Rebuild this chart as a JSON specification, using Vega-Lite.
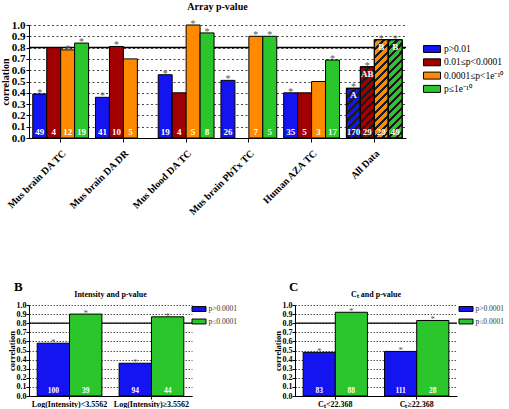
{
  "$schema": "https://vega.github.io/schema/vega-lite/v6.json",
  "padding": {"top": 2, "left": 0, "right": 0, "bottom": 0},
  "spacing": 64,
  "resolve": {"scale": {"color": "independent", "xOffset": "independent"}, "legend": {"color": "independent"}},
  "config": {
    "view": {"stroke": null},
    "font": "Liberation Serif",
    "axis": {"labelFont": "Liberation Serif", "titleFont": "Liberation Serif", "labelColor": "black", "titleColor": "black", "domainColor": "black", "tickColor": "black", "labelFontWeight": "bold", "titleFontWeight": "bold", "labelOverlap": false},
    "legend": {"labelFont": "Liberation Serif"},
    "title": {"font": "Liberation Serif", "fontWeight": "bold", "color": "black"}
  },
  "datasets": {
    "arr": [
      {"g": "Mus brain DA TC", "s": "p>0.01", "v": 0.39, "n": "49", "star": "*", "lab": ""},
      {"g": "Mus brain DA TC", "s": "0.01≤p<0.0001", "v": 0.80, "n": "4", "star": "", "lab": ""},
      {"g": "Mus brain DA TC", "s": "0.0001≤p<1e⁻¹⁰", "v": 0.78, "n": "12", "star": "*", "lab": ""},
      {"g": "Mus brain DA TC", "s": "p≤1e⁻¹⁰", "v": 0.84, "n": "19", "star": "*", "lab": ""},
      {"g": "Mus brain DA DR", "s": "p>0.01", "v": 0.36, "n": "41", "star": "*", "lab": ""},
      {"g": "Mus brain DA DR", "s": "0.01≤p<0.0001", "v": 0.81, "n": "10", "star": "*", "lab": ""},
      {"g": "Mus brain DA DR", "s": "0.0001≤p<1e⁻¹⁰", "v": 0.70, "n": "5", "star": "", "lab": ""},
      {"g": "Mus brain DA DR", "s": "p≤1e⁻¹⁰", "v": null, "n": "ND", "star": "", "lab": ""},
      {"g": "Mus blood DA TC", "s": "p>0.01", "v": 0.56, "n": "19", "star": "*", "lab": ""},
      {"g": "Mus blood DA TC", "s": "0.01≤p<0.0001", "v": 0.40, "n": "4", "star": "", "lab": ""},
      {"g": "Mus blood DA TC", "s": "0.0001≤p<1e⁻¹⁰", "v": 1.00, "n": "5", "star": "*", "lab": ""},
      {"g": "Mus blood DA TC", "s": "p≤1e⁻¹⁰", "v": 0.93, "n": "8", "star": "*", "lab": ""},
      {"g": "Mus brain PbTx TC", "s": "p>0.01", "v": 0.51, "n": "26", "star": "*", "lab": ""},
      {"g": "Mus brain PbTx TC", "s": "0.01≤p<0.0001", "v": null, "n": "ND", "star": "", "lab": ""},
      {"g": "Mus brain PbTx TC", "s": "0.0001≤p<1e⁻¹⁰", "v": 0.90, "n": "7", "star": "*", "lab": ""},
      {"g": "Mus brain PbTx TC", "s": "p≤1e⁻¹⁰", "v": 0.90, "n": "5", "star": "*", "lab": ""},
      {"g": "Human AZA TC", "s": "p>0.01", "v": 0.40, "n": "35", "star": "*", "lab": ""},
      {"g": "Human AZA TC", "s": "0.01≤p<0.0001", "v": 0.40, "n": "5", "star": "", "lab": ""},
      {"g": "Human AZA TC", "s": "0.0001≤p<1e⁻¹⁰", "v": 0.50, "n": "3", "star": "", "lab": ""},
      {"g": "Human AZA TC", "s": "p≤1e⁻¹⁰", "v": 0.69, "n": "17", "star": "*", "lab": ""},
      {"g": "All Data", "s": "p>0.01", "v": 0.44, "n": "170", "star": "*", "lab": "A"},
      {"g": "All Data", "s": "0.01≤p<0.0001", "v": 0.63, "n": "29", "star": "*", "lab": "AB"},
      {"g": "All Data", "s": "0.0001≤p<1e⁻¹⁰", "v": 0.87, "n": "29", "star": "*", "lab": "B"},
      {"g": "All Data", "s": "p≤1e⁻¹⁰", "v": 0.87, "n": "49", "star": "*", "lab": "B"}
    ],
    "intensity": [
      {"g": "Log(Intensity)<3.5562", "s": "p>0.0001", "v": 0.58, "n": "100"},
      {"g": "Log(Intensity)<3.5562", "s": "p≤0.0001", "v": 0.90, "n": "39"},
      {"g": "Log(Intensity)≥3.5562", "s": "p>0.0001", "v": 0.36, "n": "94"},
      {"g": "Log(Intensity)≥3.5562", "s": "p≤0.0001", "v": 0.87, "n": "44"}
    ],
    "ct": [
      {"g": "Cₜ<22.368", "s": "p>0.0001", "v": 0.48, "n": "83"},
      {"g": "Cₜ<22.368", "s": "p≤0.0001", "v": 0.92, "n": "88"},
      {"g": "Cₜ≥22.368", "s": "p>0.0001", "v": 0.49, "n": "111"},
      {"g": "Cₜ≥22.368", "s": "p≤0.0001", "v": 0.83, "n": "28"}
    ]
  },
  "vconcat": [
    {
      "width": 377,
      "height": 113,
      "title": {"text": "Array p-value", "fontSize": 10, "frame": "group", "offset": 7},
      "layer": [
        {
          "data": {"values": [{}]},
          "mark": {"type": "rule", "strokeWidth": 1.5, "color": "black"},
          "encoding": {"y": {"datum": 0.8, "type": "quantitative", "scale": {"domain": [0, 1], "nice": false},
            "axis": {"title": "correlation", "values": [0, 0.1, 0.2, 0.3, 0.4, 0.5, 0.6, 0.7, 0.8, 0.9, 1.0], "format": ".1f", "labelFontSize": 11, "labelPadding": 1, "tickSize": 3, "titleFontSize": 10, "titlePadding": 1, "grid": true, "gridColor": "#444", "gridDash": [2, 2.5], "gridWidth": 1}}}
        },
        {
          "data": {"name": "arr"},
          "encoding": {
            "x": {"field": "g", "type": "nominal", "sort": null,
              "scale": {"domain": ["Mus brain DA TC", "Mus brain DA DR", "Mus blood DA TC", "Mus brain PbTx TC", "Human AZA TC", "All Data"], "paddingInner": 0.11, "paddingOuter": 0.06},
              "axis": {"title": null, "labelAngle": -45, "labelFontSize": 10, "labelPadding": 6, "tickSize": 4, "labelLimit": 200}},
            "xOffset": {"field": "s", "type": "nominal", "sort": null,
              "scale": {"domain": ["p>0.01", "0.01≤p<0.0001", "0.0001≤p<1e⁻¹⁰", "p≤1e⁻¹⁰"], "paddingInner": 0, "paddingOuter": 0}},
            "y": {"field": "v", "type": "quantitative",
              "scale": {"domain": [0, 1], "nice": false},
              "axis": {"title": "correlation", "values": [0, 0.1, 0.2, 0.3, 0.4, 0.5, 0.6, 0.7, 0.8, 0.9, 1.0], "format": ".1f", "labelFontSize": 11, "labelPadding": 1, "tickSize": 3, "titleFontSize": 10, "titlePadding": 1, "grid": true, "gridColor": "#444", "gridDash": [2, 2.5], "gridWidth": 1}}
          },
          "layer": [
            {
              "mark": {"type": "bar", "stroke": "black", "strokeWidth": 1},
              "encoding": {
                "color": {"field": "s", "type": "nominal",
                  "scale": {"domain": ["p>0.01", "0.01≤p<0.0001", "0.0001≤p<1e⁻¹⁰", "p≤1e⁻¹⁰"], "range": ["#1414f0", "#a00000", "#ff8a00", "#2bc62b"]},
                  "legend": {"title": null, "orient": "none", "legendX": 398, "legendY": 19, "symbolType": "M-2,-0.82H2V0.82H-2Z", "symbolSize": 72, "symbolStrokeColor": "black", "symbolStrokeWidth": 1, "symbolOpacity": 1, "labelFontSize": 9.5, "labelColor": "black", "labelOffset": 7, "rowPadding": 1.3, "padding": 0, "labelLimit": 200}}
              }
            },
            {
              "transform": [{"filter": "datum.g == 'All Data' && datum.s == 'p>0.01'"}],
              "mark": {"type": "bar", "stroke": "black", "strokeWidth": 1,
                "fill": {"gradient": "linear", "x1": 0, "y1": 0, "x2": 0.3345, "y2": 1.1875, "stops": [
                  {"offset": 0, "color": "#1a1a1a"}, {"offset": 0.05, "color": "#1a1a1a"}, {"offset": 0.05, "color": "rgba(0,0,0,0)"}, {"offset": 0.125, "color": "rgba(0,0,0,0)"},
                  {"offset": 0.125, "color": "#1a1a1a"}, {"offset": 0.175, "color": "#1a1a1a"}, {"offset": 0.175, "color": "rgba(0,0,0,0)"}, {"offset": 0.25, "color": "rgba(0,0,0,0)"},
                  {"offset": 0.25, "color": "#1a1a1a"}, {"offset": 0.3, "color": "#1a1a1a"}, {"offset": 0.3, "color": "rgba(0,0,0,0)"}, {"offset": 0.375, "color": "rgba(0,0,0,0)"},
                  {"offset": 0.375, "color": "#1a1a1a"}, {"offset": 0.425, "color": "#1a1a1a"}, {"offset": 0.425, "color": "rgba(0,0,0,0)"}, {"offset": 0.5, "color": "rgba(0,0,0,0)"},
                  {"offset": 0.5, "color": "#1a1a1a"}, {"offset": 0.55, "color": "#1a1a1a"}, {"offset": 0.55, "color": "rgba(0,0,0,0)"}, {"offset": 0.625, "color": "rgba(0,0,0,0)"},
                  {"offset": 0.625, "color": "#1a1a1a"}, {"offset": 0.675, "color": "#1a1a1a"}, {"offset": 0.675, "color": "rgba(0,0,0,0)"}, {"offset": 0.75, "color": "rgba(0,0,0,0)"},
                  {"offset": 0.75, "color": "#1a1a1a"}, {"offset": 0.8, "color": "#1a1a1a"}, {"offset": 0.8, "color": "rgba(0,0,0,0)"}, {"offset": 0.875, "color": "rgba(0,0,0,0)"},
                  {"offset": 0.875, "color": "#1a1a1a"}, {"offset": 0.925, "color": "#1a1a1a"}, {"offset": 0.925, "color": "rgba(0,0,0,0)"}, {"offset": 1, "color": "rgba(0,0,0,0)"}
                ]}}
            },
            {
              "transform": [{"filter": "datum.g == 'All Data' && datum.s == '0.01≤p<0.0001'"}],
              "mark": {"type": "bar", "stroke": "black", "strokeWidth": 1,
                "fill": {"gradient": "linear", "x1": 0, "y1": 0, "x2": 0.2266, "y2": 1.152, "stops": [
                  {"offset": 0, "color": "#1a1a1a"}, {"offset": 0.0364, "color": "#1a1a1a"}, {"offset": 0.0364, "color": "rgba(0,0,0,0)"}, {"offset": 0.0909, "color": "rgba(0,0,0,0)"},
                  {"offset": 0.0909, "color": "#1a1a1a"}, {"offset": 0.1273, "color": "#1a1a1a"}, {"offset": 0.1273, "color": "rgba(0,0,0,0)"}, {"offset": 0.1818, "color": "rgba(0,0,0,0)"},
                  {"offset": 0.1818, "color": "#1a1a1a"}, {"offset": 0.2182, "color": "#1a1a1a"}, {"offset": 0.2182, "color": "rgba(0,0,0,0)"}, {"offset": 0.2727, "color": "rgba(0,0,0,0)"},
                  {"offset": 0.2727, "color": "#1a1a1a"}, {"offset": 0.3091, "color": "#1a1a1a"}, {"offset": 0.3091, "color": "rgba(0,0,0,0)"}, {"offset": 0.3636, "color": "rgba(0,0,0,0)"},
                  {"offset": 0.3636, "color": "#1a1a1a"}, {"offset": 0.4, "color": "#1a1a1a"}, {"offset": 0.4, "color": "rgba(0,0,0,0)"}, {"offset": 0.4545, "color": "rgba(0,0,0,0)"},
                  {"offset": 0.4545, "color": "#1a1a1a"}, {"offset": 0.4909, "color": "#1a1a1a"}, {"offset": 0.4909, "color": "rgba(0,0,0,0)"}, {"offset": 0.5455, "color": "rgba(0,0,0,0)"},
                  {"offset": 0.5455, "color": "#1a1a1a"}, {"offset": 0.5818, "color": "#1a1a1a"}, {"offset": 0.5818, "color": "rgba(0,0,0,0)"}, {"offset": 0.6364, "color": "rgba(0,0,0,0)"},
                  {"offset": 0.6364, "color": "#1a1a1a"}, {"offset": 0.6727, "color": "#1a1a1a"}, {"offset": 0.6727, "color": "rgba(0,0,0,0)"}, {"offset": 0.7273, "color": "rgba(0,0,0,0)"},
                  {"offset": 0.7273, "color": "#1a1a1a"}, {"offset": 0.7636, "color": "#1a1a1a"}, {"offset": 0.7636, "color": "rgba(0,0,0,0)"}, {"offset": 0.8182, "color": "rgba(0,0,0,0)"},
                  {"offset": 0.8182, "color": "#1a1a1a"}, {"offset": 0.8545, "color": "#1a1a1a"}, {"offset": 0.8545, "color": "rgba(0,0,0,0)"}, {"offset": 0.9091, "color": "rgba(0,0,0,0)"},
                  {"offset": 0.9091, "color": "#1a1a1a"}, {"offset": 0.9455, "color": "#1a1a1a"}, {"offset": 0.9455, "color": "rgba(0,0,0,0)"}, {"offset": 1, "color": "rgba(0,0,0,0)"}
                ]}}
            },
            {
              "transform": [{"filter": "datum.g == 'All Data' && (datum.s == '0.0001≤p<1e⁻¹⁰' || datum.s == 'p≤1e⁻¹⁰')"}],
              "mark": {"type": "bar", "stroke": "black", "strokeWidth": 1,
                "fill": {"gradient": "linear", "x1": 0, "y1": 0, "x2": 0.1595, "y2": 1.1197, "stops": [
                  {"offset": 0, "color": "#1a1a1a"}, {"offset": 0.0286, "color": "#1a1a1a"}, {"offset": 0.0286, "color": "rgba(0,0,0,0)"}, {"offset": 0.0714, "color": "rgba(0,0,0,0)"},
                  {"offset": 0.0714, "color": "#1a1a1a"}, {"offset": 0.1, "color": "#1a1a1a"}, {"offset": 0.1, "color": "rgba(0,0,0,0)"}, {"offset": 0.1429, "color": "rgba(0,0,0,0)"},
                  {"offset": 0.1429, "color": "#1a1a1a"}, {"offset": 0.1714, "color": "#1a1a1a"}, {"offset": 0.1714, "color": "rgba(0,0,0,0)"}, {"offset": 0.2143, "color": "rgba(0,0,0,0)"},
                  {"offset": 0.2143, "color": "#1a1a1a"}, {"offset": 0.2429, "color": "#1a1a1a"}, {"offset": 0.2429, "color": "rgba(0,0,0,0)"}, {"offset": 0.2857, "color": "rgba(0,0,0,0)"},
                  {"offset": 0.2857, "color": "#1a1a1a"}, {"offset": 0.3143, "color": "#1a1a1a"}, {"offset": 0.3143, "color": "rgba(0,0,0,0)"}, {"offset": 0.3571, "color": "rgba(0,0,0,0)"},
                  {"offset": 0.3571, "color": "#1a1a1a"}, {"offset": 0.3857, "color": "#1a1a1a"}, {"offset": 0.3857, "color": "rgba(0,0,0,0)"}, {"offset": 0.4286, "color": "rgba(0,0,0,0)"},
                  {"offset": 0.4286, "color": "#1a1a1a"}, {"offset": 0.4571, "color": "#1a1a1a"}, {"offset": 0.4571, "color": "rgba(0,0,0,0)"}, {"offset": 0.5, "color": "rgba(0,0,0,0)"},
                  {"offset": 0.5, "color": "#1a1a1a"}, {"offset": 0.5286, "color": "#1a1a1a"}, {"offset": 0.5286, "color": "rgba(0,0,0,0)"}, {"offset": 0.5714, "color": "rgba(0,0,0,0)"},
                  {"offset": 0.5714, "color": "#1a1a1a"}, {"offset": 0.6, "color": "#1a1a1a"}, {"offset": 0.6, "color": "rgba(0,0,0,0)"}, {"offset": 0.6429, "color": "rgba(0,0,0,0)"},
                  {"offset": 0.6429, "color": "#1a1a1a"}, {"offset": 0.6714, "color": "#1a1a1a"}, {"offset": 0.6714, "color": "rgba(0,0,0,0)"}, {"offset": 0.7143, "color": "rgba(0,0,0,0)"},
                  {"offset": 0.7143, "color": "#1a1a1a"}, {"offset": 0.7429, "color": "#1a1a1a"}, {"offset": 0.7429, "color": "rgba(0,0,0,0)"}, {"offset": 0.7857, "color": "rgba(0,0,0,0)"},
                  {"offset": 0.7857, "color": "#1a1a1a"}, {"offset": 0.8143, "color": "#1a1a1a"}, {"offset": 0.8143, "color": "rgba(0,0,0,0)"}, {"offset": 0.8571, "color": "rgba(0,0,0,0)"},
                  {"offset": 0.8571, "color": "#1a1a1a"}, {"offset": 0.8857, "color": "#1a1a1a"}, {"offset": 0.8857, "color": "rgba(0,0,0,0)"}, {"offset": 0.9286, "color": "rgba(0,0,0,0)"},
                  {"offset": 0.9286, "color": "#1a1a1a"}, {"offset": 0.9571, "color": "#1a1a1a"}, {"offset": 0.9571, "color": "rgba(0,0,0,0)"}, {"offset": 1, "color": "rgba(0,0,0,0)"}
                ]}}
            },
            {
              "mark": {"type": "text", "baseline": "bottom", "dy": -1, "fontSize": 9, "fontWeight": "bold"},
              "encoding": {
                "y": {"datum": 0},
                "text": {"field": "n"},
                "color": {"condition": {"test": "datum.v == null", "value": "black"}, "value": "white"}
              }
            },
            {
              "transform": [{"filter": "datum.star == '*'"}],
              "mark": {"type": "text", "baseline": "alphabetic", "dy": 2, "fontSize": 10, "color": "#555"},
              "encoding": {"text": {"field": "star"}}
            },
            {
              "transform": [{"filter": "datum.lab != ''"}],
              "mark": {"type": "text", "baseline": "top", "dy": 3, "fontSize": 9, "fontWeight": "bold", "color": "white"},
              "encoding": {"text": {"field": "lab"}}
            }
          ]
        }
      ]
    },
    {
      "spacing": 35,
      "resolve": {"scale": {"color": "independent", "xOffset": "independent"}, "legend": {"color": "independent"}},
      "hconcat": [
        {
          "title": {"text": "B", "anchor": "start", "frame": "bounds", "fontSize": 13, "dx": 7, "offset": -3.5},
          "vconcat": [
            {
              "width": 163,
              "height": 91,
              "title": {"text": "Intensity and p-value", "fontSize": 8, "frame": "group", "offset": 2.5},
              "layer": [
                {
                  "data": {"values": [{}]},
                  "mark": {"type": "rule", "strokeWidth": 1.2, "color": "black"},
                  "encoding": {"y": {"datum": 0.8, "type": "quantitative", "scale": {"domain": [0, 1], "nice": false},
                    "axis": {"title": "correlation", "values": [0, 0.1, 0.2, 0.3, 0.4, 0.5, 0.6, 0.7, 0.8, 0.9, 1.0], "format": ".1f", "labelFontSize": 8, "labelPadding": 0, "tickSize": 3, "titleFontSize": 8.5, "titlePadding": 0, "grid": true, "gridColor": "#555", "gridDash": [1.5, 1.5], "gridWidth": 1}}}
                },
                {
                  "data": {"name": "intensity"},
                  "encoding": {
                    "x": {"field": "g", "type": "nominal", "sort": null,
                      "scale": {"domain": ["Log(Intensity)<3.5562", "Log(Intensity)≥3.5562"], "paddingInner": 0.21, "paddingOuter": 0.1},
                      "axis": {"title": null, "labelAngle": 0, "labelFontSize": 8, "labelPadding": 1, "tickSize": 3, "labelLimit": 200}},
                    "xOffset": {"field": "s", "type": "nominal", "sort": null, "scale": {"domain": ["p>0.0001", "p≤0.0001"], "paddingInner": 0, "paddingOuter": 0}},
                    "y": {"field": "v", "type": "quantitative",
                      "scale": {"domain": [0, 1], "nice": false},
                      "axis": {"title": "correlation", "values": [0, 0.1, 0.2, 0.3, 0.4, 0.5, 0.6, 0.7, 0.8, 0.9, 1.0], "format": ".1f", "labelFontSize": 8, "labelPadding": 0, "tickSize": 3, "titleFontSize": 8.5, "titlePadding": 0, "grid": true, "gridColor": "#555", "gridDash": [1.5, 1.5], "gridWidth": 1}}
                  },
                  "layer": [
                    {
                      "mark": {"type": "bar", "stroke": "black", "strokeWidth": 1},
                      "encoding": {
                        "color": {"field": "s", "type": "nominal",
                          "scale": {"domain": ["p>0.0001", "p≤0.0001"], "range": ["#1414f0", "#2bc62b"]},
                          "legend": {"title": null, "orient": "none", "legendX": 166, "legendY": 0, "symbolType": "M-2,-0.7H2V0.7H-2Z", "symbolSize": 49, "symbolStrokeColor": "black", "symbolStrokeWidth": 1, "symbolOpacity": 1, "labelFontSize": 7.5, "labelColor": "#333", "labelOffset": 5.5, "rowPadding": 2.5, "padding": 0}}
                      }
                    },
                    {
                      "mark": {"type": "text", "baseline": "bottom", "dy": -1, "fontSize": 7.5, "fontWeight": "bold", "color": "white"},
                      "encoding": {"y": {"datum": 0}, "text": {"field": "n"}}
                    },
                    {
                      "mark": {"type": "text", "baseline": "alphabetic", "dy": 2, "fontSize": 9, "color": "#555"},
                      "encoding": {"text": {"value": "*"}}
                    }
                  ]
                }
              ]
            }
          ]
        },
        {
          "title": {"text": "C", "anchor": "start", "frame": "bounds", "fontSize": 13, "dx": 16, "offset": -3.5},
          "vconcat": [
            {
              "width": 162,
              "height": 91,
              "title": {"text": "Cₜ and p-value", "fontSize": 8, "frame": "group", "offset": 2.5},
              "layer": [
                {
                  "data": {"values": [{}]},
                  "mark": {"type": "rule", "strokeWidth": 1.2, "color": "black"},
                  "encoding": {"y": {"datum": 0.8, "type": "quantitative", "scale": {"domain": [0, 1], "nice": false},
                    "axis": {"title": "correlation", "values": [0, 0.1, 0.2, 0.3, 0.4, 0.5, 0.6, 0.7, 0.8, 0.9, 1.0], "format": ".1f", "labelFontSize": 8, "labelPadding": 0, "tickSize": 3, "titleFontSize": 8.5, "titlePadding": 0, "grid": true, "gridColor": "#555", "gridDash": [1.5, 1.5], "gridWidth": 1}}}
                },
                {
                  "data": {"name": "ct"},
                  "encoding": {
                    "x": {"field": "g", "type": "nominal", "sort": null,
                      "scale": {"domain": ["Cₜ<22.368", "Cₜ≥22.368"], "paddingInner": 0.21, "paddingOuter": 0.1},
                      "axis": {"title": null, "labelAngle": 0, "labelFontSize": 8, "labelPadding": 1, "tickSize": 3, "labelLimit": 200}},
                    "xOffset": {"field": "s", "type": "nominal", "sort": null, "scale": {"domain": ["p>0.0001", "p≤0.0001"], "paddingInner": 0, "paddingOuter": 0}},
                    "y": {"field": "v", "type": "quantitative",
                      "scale": {"domain": [0, 1], "nice": false},
                      "axis": {"title": "correlation", "values": [0, 0.1, 0.2, 0.3, 0.4, 0.5, 0.6, 0.7, 0.8, 0.9, 1.0], "format": ".1f", "labelFontSize": 8, "labelPadding": 0, "tickSize": 3, "titleFontSize": 8.5, "titlePadding": 0, "grid": true, "gridColor": "#555", "gridDash": [1.5, 1.5], "gridWidth": 1}}
                  },
                  "layer": [
                    {
                      "mark": {"type": "bar", "stroke": "black", "strokeWidth": 1},
                      "encoding": {
                        "color": {"field": "s", "type": "nominal",
                          "scale": {"domain": ["p>0.0001", "p≤0.0001"], "range": ["#1414f0", "#2bc62b"]},
                          "legend": {"title": null, "orient": "none", "legendX": 167, "legendY": 0, "symbolType": "M-2,-0.7H2V0.7H-2Z", "symbolSize": 49, "symbolStrokeColor": "black", "symbolStrokeWidth": 1, "symbolOpacity": 1, "labelFontSize": 7.5, "labelColor": "#333", "labelOffset": 5.5, "rowPadding": 2.5, "padding": 0}}
                      }
                    },
                    {
                      "mark": {"type": "text", "baseline": "bottom", "dy": -1, "fontSize": 7.5, "fontWeight": "bold", "color": "white"},
                      "encoding": {"y": {"datum": 0}, "text": {"field": "n"}}
                    },
                    {
                      "mark": {"type": "text", "baseline": "alphabetic", "dy": 2, "fontSize": 9, "color": "#555"},
                      "encoding": {"text": {"value": "*"}}
                    }
                  ]
                }
              ]
            }
          ]
        }
      ]
    }
  ]
}
